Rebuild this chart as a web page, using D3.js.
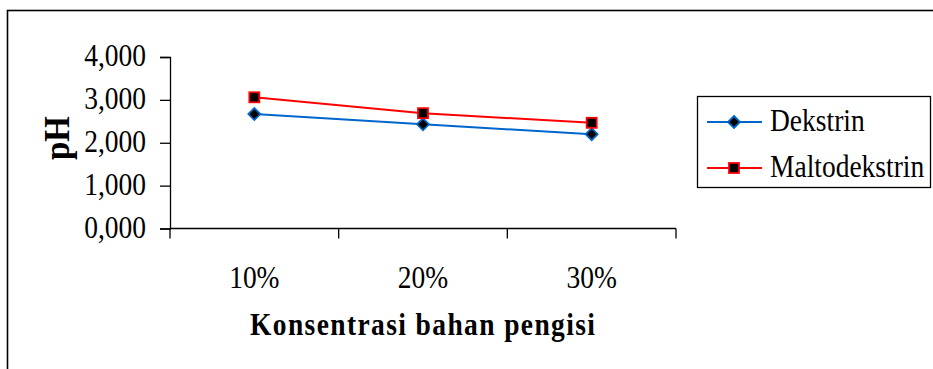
<!DOCTYPE html>
<html>
<head>
<meta charset="utf-8">
<script src="https://cdn.jsdelivr.net/npm/d3@7"></script>
<style>
  html, body { margin: 0; padding: 0; background: #fff; }
  svg { display: block; }
  text { font-family: "Liberation Serif", "Times New Roman", serif; fill: #000; }
</style>
</head>
<body>
<svg id="chart" width="933" height="369"></svg>
<script>
// Filler concentration categories and measured pH for each filler
const categories = ["10%", "20%", "30%"];
const dekstrin = [2670, 2430, 2200];
const maltodekstrin = [3060, 2690, 2465];
const yTicks = [0, 1000, 2000, 3000, 4000];
const seriesNames = ["Dekstrin", "Maltodekstrin"];

const svg = d3.select("#chart");
const W = 933, H = 369;
const FS = 27.5;      // base font size
const STRETCH = 1.15; // glyphs are drawn slightly taller than wide

// place a text at (px, py) with a vertical stretch about its baseline
function label(parent, px, py, str, opts = {}) {
  const t = parent.append("text")
    .attr("transform", `translate(${px},${py}) scale(1,${STRETCH})`)
    .attr("font-size", opts.size || FS)
    .attr("text-anchor", opts.anchor || "start")
    .text(str);
  if (opts.bold) t.attr("font-weight", "bold");
  if (opts.dy) t.attr("dy", opts.dy);
  if (opts.length) t.attr("textLength", opts.length).attr("lengthAdjust", "spacing");
  return t;
}

// chart frame
svg.append("rect")
  .attr("x", 7.5).attr("y", 10.5)
  .attr("width", W).attr("height", H)
  .attr("fill", "#fff")
  .attr("stroke", "#000").attr("stroke-width", 1.6);

const plot = { left: 170, right: 676, top: 57, bottom: 228.5 };

const x = d3.scaleBand()
  .domain(categories)
  .range([plot.left, plot.right])
  .paddingInner(0).paddingOuter(0);

const y = d3.scaleLinear()
  .domain([0, 4000])
  .range([plot.bottom, plot.top]);

const fmt = v => d3.format(",.3f")(v / 1000).replace(".", ",");

// Y axis (ticks and line through d3.axisLeft, labels stretched separately)
const yAxis = svg.append("g")
  .attr("transform", `translate(${plot.left},0)`)
  .call(d3.axisLeft(y).tickValues(yTicks).tickSize(10).tickFormat(""));
yAxis.select(".domain").attr("stroke", "#000").attr("stroke-width", 1.3);
yAxis.selectAll(".tick line").attr("stroke", "#000").attr("stroke-width", 1.3);
yTicks.forEach(v => label(svg, 146, y(v) + 9, fmt(v), { anchor: "end" }));

// X axis with tick marks on band boundaries
const xg = svg.append("g");
xg.append("line")
  .attr("x1", plot.left).attr("x2", plot.right)
  .attr("y1", plot.bottom).attr("y2", plot.bottom)
  .attr("stroke", "#000").attr("stroke-width", 1.3);
const boundaries = categories.map(c => x(c)).concat([x(categories[categories.length - 1]) + x.bandwidth()]);
xg.selectAll("line.tk").data(boundaries).enter().append("line")
  .attr("class", "tk")
  .attr("x1", d => d).attr("x2", d => d)
  .attr("y1", plot.bottom).attr("y2", plot.bottom + 10)
  .attr("stroke", "#000").attr("stroke-width", 1.3);
categories.forEach(c => label(xg, x(c) + x.bandwidth() / 2, 288, c, { anchor: "middle" }));

// axis titles
label(svg, 250, 335, "Konsentrasi bahan pengisi", { bold: true, length: 345 });

svg.append("text")
  .attr("transform", "translate(69,138) rotate(-90) scale(1,1.1)")
  .attr("text-anchor", "middle")
  .attr("font-size", 33).attr("font-weight", "bold")
  .text("pH");

const cx = c => x(c) + x.bandwidth() / 2;
const colors = ["#0066cc", "#ff0000"];
const data = [dekstrin, maltodekstrin];

const line = d3.line().x(d => cx(d.c)).y(d => y(d.v));

function drawMarker(g, i, px, py) {
  if (i === 0) {
    g.append("path")
      .attr("d", "M0,-6 L6,0 L0,6 L-6,0 Z")
      .attr("transform", `translate(${px},${py})`)
      .attr("fill", "#000").attr("stroke", colors[0]).attr("stroke-width", 1.8);
  } else {
    g.append("rect")
      .attr("x", px - 5).attr("y", py - 5)
      .attr("width", 10).attr("height", 10)
      .attr("fill", "#000").attr("stroke", colors[1]).attr("stroke-width", 1.8);
  }
}

data.forEach((vals, i) => {
  const pts = categories.map((c, k) => ({ c, v: vals[k] }));
  const g = svg.append("g");
  g.append("path").datum(pts)
    .attr("d", line)
    .attr("fill", "none")
    .attr("stroke", colors[i]).attr("stroke-width", 2);
  pts.forEach(p => drawMarker(g, i, cx(p.c), y(p.v)));
});

// legend
const lg = svg.append("g");
lg.append("rect")
  .attr("x", 697.5).attr("y", 96.5)
  .attr("width", 233).attr("height", 91)
  .attr("fill", "#fff").attr("stroke", "#000").attr("stroke-width", 1.3);
const legY = [122, 168];
seriesNames.forEach((name, i) => {
  lg.append("line")
    .attr("x1", 707).attr("x2", 762)
    .attr("y1", legY[i]).attr("y2", legY[i])
    .attr("stroke", colors[i]).attr("stroke-width", 2);
  drawMarker(lg, i, 734, legY[i]);
  label(lg, 770, legY[i] + 9, name);
});
</script>
</body>
</html>
